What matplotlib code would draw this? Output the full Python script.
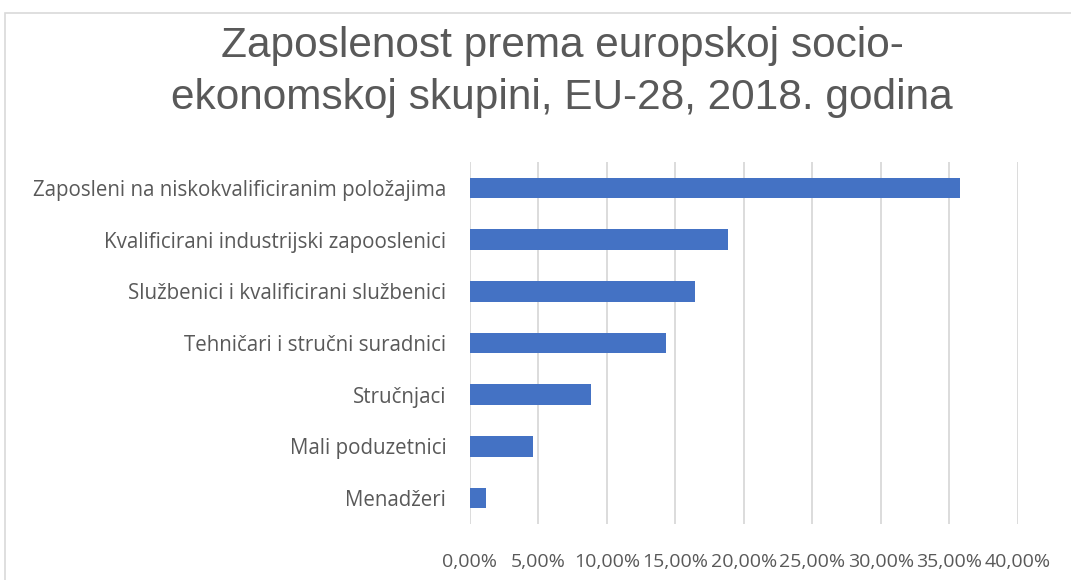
import matplotlib.pyplot as plt
from matplotlib.patches import Rectangle
from matplotlib.ticker import FuncFormatter, MultipleLocator

# -----------------------------------------------------------------------------
# Data (EU-28, 2018, share of employment)
# -----------------------------------------------------------------------------
categories = [
    "Zaposleni na niskokvalificiranim položajima",
    "Kvalificirani industrijski zapooslenici",
    "Službenici i kvalificirani službenici",
    "Tehničari i stručni suradnici",
    "Stručnjaci",
    "Mali poduzetnici",
    "Menadžeri",
]
shares = [35.8, 18.8, 16.4, 14.3, 8.8, 4.6, 1.2]

TEXT = "#595959"
BAR = "#4472C4"
GRID = "#d9d9d9"

fig = plt.figure(figsize=(10.71, 5.8), dpi=100)
ax = fig.add_axes([0.4388, 0.0966, 0.5117, 0.6241])

# outer chart border (cut off on the right and bottom)
fig.patches.append(Rectangle((5 / 1071, -0.2), 1.2, 1.2 - 13 / 580,
                             transform=fig.transFigure, fill=False,
                             edgecolor=GRID, linewidth=1.2))

ypos = list(range(len(categories)))
ax.barh(ypos, shares, height=0.4, color=BAR, zorder=3)

ax.set_yticks(ypos)
ax.set_yticklabels(categories, fontsize=14.8, color=TEXT, family="Open Sans")
ax.set_ylim(len(categories) - 0.5, -0.5)

ax.set_xlim(0, 40)
ax.xaxis.set_major_locator(MultipleLocator(5))
ax.xaxis.set_major_formatter(FuncFormatter(lambda v, p: f"{v:.2f}%".replace(".", ",")))
for lbl in ax.get_xticklabels():
    lbl.set_fontsize(14)
    lbl.set_color(TEXT)
    lbl.set_family("Open Sans")

ax.grid(axis="x", color=GRID, linewidth=1.3, zorder=0)
ax.tick_params(axis="both", length=0)
ax.tick_params(axis="x", pad=21)
ax.tick_params(axis="y", pad=17)
for s in ax.spines.values():
    s.set_visible(False)

fig.text(0.525, 0.876, "Zaposlenost prema europskoj socio-\nekonomskoj skupini, EU-28, 2018. godina",
         ha="center", va="center", fontsize=30.5, color=TEXT,
         family="Liberation Sans", linespacing=1.38)

fig.savefig("out.png", dpi=100)
